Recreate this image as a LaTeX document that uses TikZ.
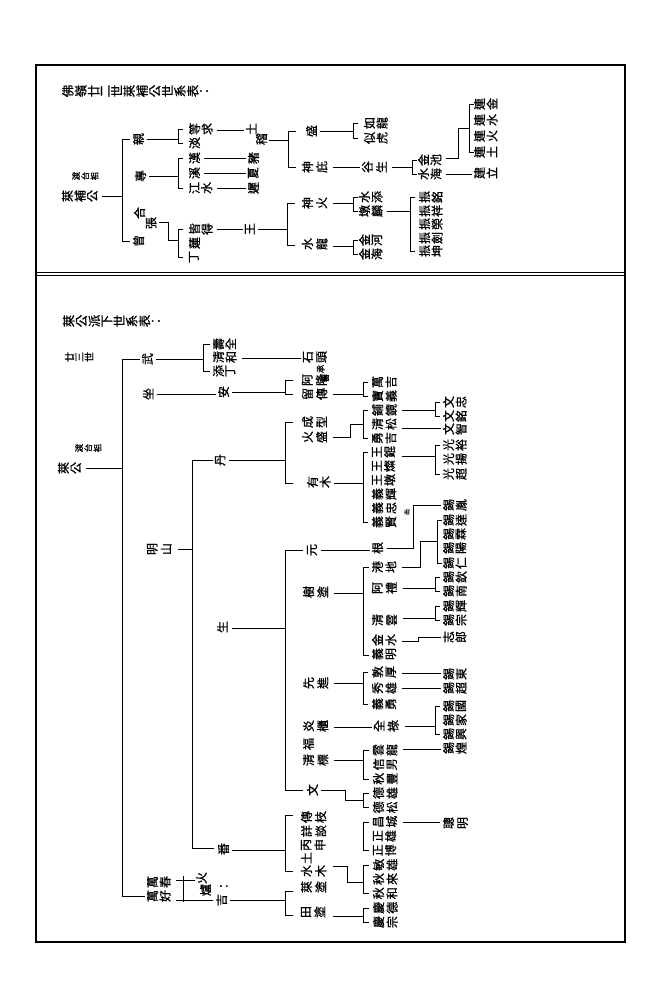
\documentclass[tikz,border=0pt]{standalone}
\usepackage{graphicx}
\usepackage{fontspec}
\newfontfamily\cjk[FakeBold=0.8]{Noto Sans CJK TC}
\makeatletter
\newdimen\rgap \rgap=1.5pt
\newcommand\R[1]{\R@#1\@nil}
\def\R@#1{\ifx#1\@nil\else\rotatebox{90}{#1}\kern\rgap\expandafter\R@\fi}
\makeatother
\tikzset{
 nm/.style={anchor=west,inner sep=0pt,outer sep=0pt,font=\cjk\fontsize{12}{12}\selectfont},
 wide/.style={execute at begin node={\rgap=3.2pt}},
 semi/.style={execute at begin node={\rgap=2.5pt}},
 big/.style={font=\cjk\fontsize{12.5}{12.5}\selectfont},
 mid/.style={font=\cjk\fontsize{10}{10}\selectfont},
 sml/.style={font=\cjk\fontsize{8.5}{8.5}\selectfont},
 tiny/.style={font=\cjk\fontsize{6}{6}\selectfont},
 ln/.style={line width=0.7pt},
}
\newcommand\N[4][]{\node[nm,#1] (n#2x#3) at (#2,#3) {\R{#4}};}
\newcommand\brk[4]{\draw[ln] (#1+#4,#2) -- (#1,#2) -- (#1,#3) -- (#1+#4,#3);}
\begin{document}
\begin{tikzpicture}[x=1pt,y=-1pt]
\useasboundingbox (0,0) rectangle (670,1000);
\fill[white] (0,0) rectangle (670,1000);
\draw[line width=1.1pt] (36,65) rectangle (625,942);
\draw[line width=1pt] (36,272) -- (625,272);
\draw[line width=0.6pt] (36,275.5) -- (625,275.5);
% ================= top panel
\N[big]{62}{91}{佛嶺廿二世萊補公世系表：}
\N[sml]{72}{176}{渡台祖}
\N{62}{196}{萊補公}
\draw[ln] (102,196) -- (122,196);
\brk{122}{139}{241}{8}
\N{133}{139}{親}
\N{135}{176}{專}
\N{134}{213}{合}
\N{146}{223}{張}
\N{133}{241}{曾}
\draw[ln] (147,139) -- (178,139);
\brk{178}{129}{143}{5}
\draw[ln] (149,176) -- (178,176);
\brk{178}{158}{188}{5}
\draw[ln] (159,222) -- (168,222) -- (168,240) -- (178,240);
\brk{178}{229}{257}{5}
\N{189}{129}{等求}
\N{189}{143}{淡}
\N{189}{158}{漢}
\N{189}{173}{溪}
\N{189}{188}{江水}
\draw[ln] (217,130) -- (244,130);
\draw[ln] (204,158) -- (246,158);
\draw[ln] (204,173) -- (246,173);
\draw[ln] (217,188) -- (246,188);
\N{248}{158}{豬}
\N{248}{173}{夏}
\N{248}{188}{遲}
\N{246}{129}{土}
\N{256}{139}{稽}
\draw[ln] (269,140) -- (288,140);
\brk{288}{131}{167}{8}
\N{189}{229}{皆得}
\N{189}{243}{蓮}
\N{189}{257}{丁}
\draw[ln] (217,229) -- (243,229);
\N{245}{229}{王}
\draw[ln] (258,229) -- (287,229);
\brk{287}{203}{245}{8}
\N{306}{131}{盛}
\draw[ln] (320,131) -- (353,131);
\brk{353}{123}{138}{5}
\N{364}{123}{如龍}
\N{364}{138}{似虎}
\N[wide]{302}{167}{神庇}
\draw[ln] (333,167) -- (360,167);
\N[wide]{362}{167}{谷生}
\draw[ln] (392,167) -- (412,167);
\brk{412}{160}{174}{5}
\N{418}{160}{金池}
\N{418}{174}{水海}
\draw[ln] (446,158) -- (458,158) -- (458,128) -- (469,128);
\brk{469}{104}{152}{5}
\draw[ln] (446,174) -- (472,174);
\N{474}{104}{連金}
\N{474}{120}{連水}
\N{474}{136}{連火}
\N{474}{152}{連土}
\N{474}{173}{建立}
\N[wide]{302}{203}{神火}
\draw[ln] (333,203) -- (353,203);
\brk{353}{197}{211}{5}
\N{359}{197}{水添}
\N{359}{211}{墩麟}
\draw[ln] (387,211) -- (410,211);
\brk{410}{197}{251}{5}
\N{419}{197}{振銘}
\N{419}{211}{振祥}
\N{419}{224}{振榮}
\N{419}{238}{振劍}
\N{419}{251}{振坤}
\N[wide]{302}{244}{水龍}
\draw[ln] (333,246) -- (353,246);
\brk{353}{240}{254}{5}
\N{359}{240}{金河}
\N{359}{254}{金海}
% ================= bottom panel
\N[big]{63}{321}{萊公派下世系表：}
\N[mid]{65}{357}{廿三世}
\N[sml]{75}{448}{渡台祖}
\N{58}{468}{萊公}
\draw[ln] (86,468) -- (122,468);
\draw[ln] (140,359) -- (122,359) -- (122,896) -- (145,896);
\N{142}{359}{武}
\draw[ln] (156,359) -- (203,359);
\brk{203}{344}{371}{7}
\N{213}{344}{壽全}
\N{213}{357}{清和}
\N{213}{371}{添丁}
\draw[ln] (242,358) -- (301,358);
\N[wide]{303}{357}{石頭}
\N[sml]{317}{369}{承}
\N[sml]{321}{378}{留}
\N{143}{394}{坐}
\draw[ln] (157,394) -- (216,394);
\N{218}{392}{安}
\draw[ln] (232,392) -- (285,392);
\brk{285}{380}{394}{8}
\N[wide]{302}{380}{阿隆}
\N[wide]{302}{394}{留傳}
\draw[ln] (333,394) -- (363,394);
\brk{363}{382}{396}{5}
\N[semi]{372}{382}{萬吉}
\N[semi]{372}{396}{寶義}
\N[semi]{372}{410}{鋪鏡}
\N[semi]{372}{424}{清松}
\N[semi]{372}{438}{勇吉}
\N[semi]{372}{452}{王錕}
\N[semi]{372}{466}{王燦}
\N[semi]{372}{480}{王墩}
\N[semi]{372}{494}{義輝}
\N[semi]{372}{508}{義忠}
\N[semi]{372}{522}{義賢}
\N[wide]{147}{549}{明山}
\draw[ln] (178,549) -- (192,549);
\draw[ln] (213,460) -- (192,460) -- (192,848) -- (214,848);
\N{215}{460}{丹}
\draw[ln] (229,460) -- (285,460);
\brk{285}{422}{483}{8}
\N[wide]{302}{422}{成型}
\N[wide]{302}{437}{火盛}
\draw[ln] (333,437) -- (350,437) -- (350,424) -- (363,424);
\brk{363}{410}{438}{5}
\N{307}{482}{有木}
\draw[ln] (334,483) -- (363,483);
\brk{363}{452}{522}{5}
% 光 block
\draw[ln] (402,410) -- (435,410);
\brk{435}{402}{416}{5}
\draw[ln] (402,428) -- (441,428);
\draw[ln] (402,456) -- (435,456);
\brk{435}{445}{474}{5}
\N{443}{402}{文忠}
\N{443}{416}{文銘}
\N{443}{429}{文智}
\N{443}{445}{光裕}
\N{443}{459}{光揚}
\N{443}{474}{光超}
% 生 branch
\N{217}{627}{生}
\draw[ln] (232,628) -- (285,628);
\draw[ln] (303,550) -- (285,550) -- (285,790) -- (303,790);
\N{307}{550}{元}
\draw[ln] (321,550) -- (370,550);
\N[semi]{372}{548}{根}
\N[semi]{372}{567}{港地}
\node[nm,tiny] (chu) at (404,512) {\R{出}};
\draw[ln] (387,548) -- (413,548) -- (413,505) -- (441,505);
\draw[ln] (402,567) -- (420,567) -- (420,541) -- (437,541);
\brk{437}{520}{563}{5}
\N{443}{505}{錫胤}
\N{443}{520}{錫達}
\N{443}{534}{錫霖}
\N{443}{548}{錫陽}
\N{443}{563}{錫仁}
\N{443}{577}{錫欽}
\N{443}{591}{錫南}
\N{443}{606}{錫輝}
\N{443}{620}{錫宗}
\N{443}{637}{志郎}
\N[wide]{303}{592}{樹塗}
\draw[ln] (334,593) -- (363,593);
\brk{363}{567}{655}{6}
\N[wide]{372}{588}{阿禮}
\N[wide]{372}{620}{清雲}
\draw[ln] (403,588) -- (435,588);
\brk{435}{577}{591}{5}
\draw[ln] (403,618) -- (435,618);
\brk{435}{606}{620}{5}
\N[semi]{372}{640}{金水}
\N[semi]{372}{654}{義明}
\draw[ln] (402,641) -- (418,641) -- (418,637) -- (441,637);
\N[wide]{303}{683}{先進}
\draw[ln] (334,683) -- (363,683);
\brk{363}{672}{704}{5}
\N[semi]{372}{672}{敦厚}
\N[semi]{372}{688}{秀雄}
\N[semi]{372}{704}{義勇}
\draw[ln] (402,673) -- (441,673);
\draw[ln] (402,688) -- (441,688);
\N{443}{674}{錫東}
\N{443}{688}{錫超}
\N{443}{706}{錫國}
\N{443}{720}{錫家}
\N{443}{734}{錫興}
\N{443}{748}{錫煌}
\N[wide]{303}{726}{炎櫃}
\draw[ln] (334,727) -- (372,727);
\N[wide]{374}{726}{全祿}
\draw[ln] (405,726) -- (435,726);
\brk{435}{706}{734}{5}
\N{303}{744}{福}
\N[wide]{303}{760}{清標}
\draw[ln] (334,760) -- (363,760);
\brk{363}{750}{779}{6}
\N[semi]{373}{750}{雲龍}
\N[semi]{373}{764.3}{信男}
\N[semi]{373}{778.7}{秋豐}
\N[semi]{373}{793}{德雄}
\N[semi]{373}{807.3}{德松}
\N[semi]{373}{821.7}{昌城}
\N[semi]{373}{836}{正雄}
\N[semi]{373}{850.3}{正博}
\N[semi]{373}{864.7}{敏雄}
\N[semi]{373}{879}{秋來}
\N[semi]{373}{893.3}{秋和}
\N[semi]{373}{907.7}{慶德}
\N[semi]{373}{922}{慶宗}
\draw[ln] (403,749) -- (441,749);
\N{307}{790}{文}
\draw[ln] (321,790) -- (345,790) -- (345,800) -- (363,800);
\brk{363}{793}{807}{6}
\brk{363}{822}{850}{6}
\draw[ln] (403,822) -- (440,822);
\N[wide]{443}{823}{聰明}
% 番 branch
\N{218}{849}{番}
\draw[ln] (232,850) -- (285,850);
\brk{285}{815}{871}{8}
\N[wide]{301}{817}{傳枝}
\N[wide]{301}{831}{詳談}
\N[wide]{301}{845}{丙申}
\N[wide]{301}{858}{土}
\N[wide]{301}{871}{水木}
\N[wide]{301}{887}{萊塗}
\N[wide]{301}{912}{田塗}
\draw[ln] (333,866) -- (347,866) -- (347,882) -- (363,882);
\brk{363}{865}{893}{6}
\draw[ln] (333,916) -- (363,916);
\brk{363}{908}{922}{6}
% 萬 branch
\N{147}{882}{萬春}
\N{147}{896}{萬好}
\draw[ln] (176,880) -- (195,880);
\draw[ln] (183,876) -- (183,902);
\draw[ln] (176,900) -- (213,900);
\N{196}{878}{火}
\N{200}{890}{爐}
\N{220}{886}{：}
\N{216}{900}{吉}
\draw[ln] (230,900) -- (285,900);
\brk{285}{891}{915}{8}
\end{tikzpicture}
\end{document}
